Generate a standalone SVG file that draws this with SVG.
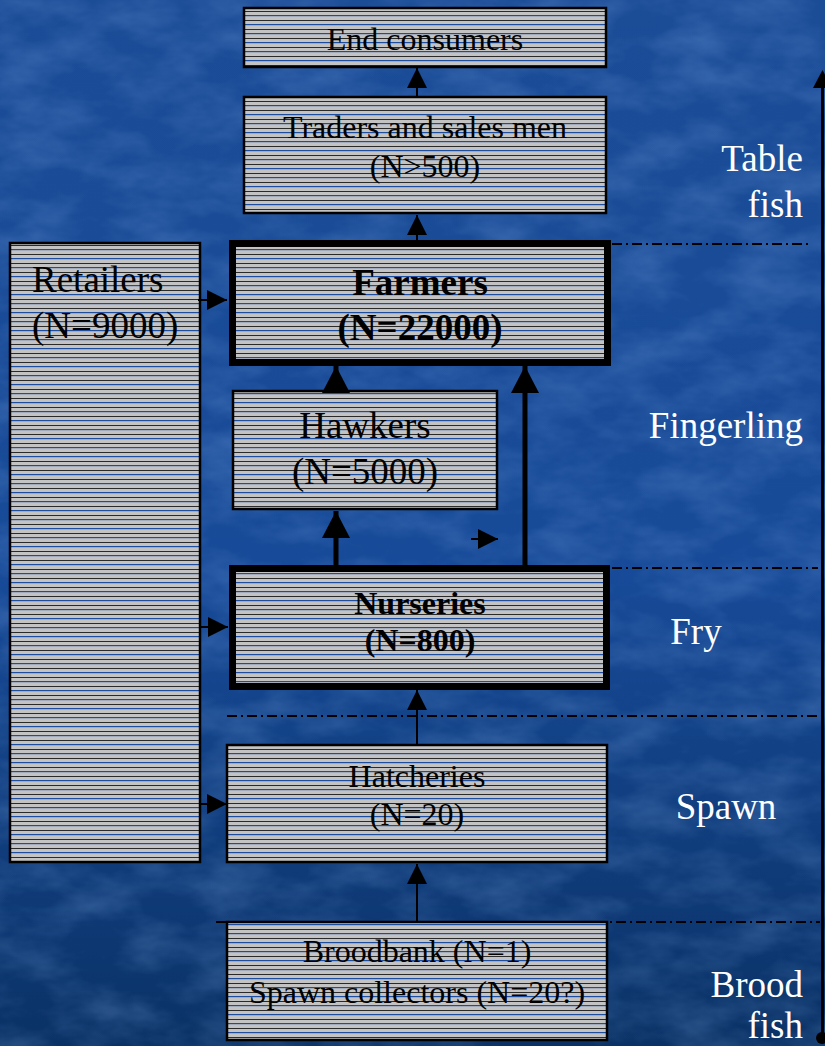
<svg xmlns="http://www.w3.org/2000/svg" width="825" height="1046" viewBox="0 0 825 1046">
  <defs>
    <linearGradient id="bg" x1="0" y1="0" x2="0" y2="1">
      <stop offset="0" stop-color="#1b4c96"/>
      <stop offset="0.55" stop-color="#174a98"/>
      <stop offset="1" stop-color="#0a3266"/>
    </linearGradient>
    <filter id="marble" x="0" y="0" width="100%" height="100%">
      <feTurbulence type="fractalNoise" baseFrequency="0.015 0.03" numOctaves="4" seed="7"/>
      <feColorMatrix type="matrix" values="0 0 0 0 0.3  0 0 0 0 0.52  0 0 0 0 0.92  1.4 0 0 0 -0.5"/>
    </filter>
    <pattern id="stripes" patternUnits="userSpaceOnUse" width="10" height="9">
      <rect width="10" height="9" fill="#c3c3c3"/>
      <rect y="2" width="10" height="1" fill="#2a2a2a"/>
      <rect y="6" width="10" height="1.2" fill="#1c4d9e"/>
    </pattern>
    <marker id="head-s" viewBox="0 0 20 20" refX="20" refY="10" markerWidth="20" markerHeight="20" markerUnits="userSpaceOnUse" orient="auto">
      <path d="M0,0 L20,10 L0,20 z" fill="#000"/>
    </marker>
    <marker id="head-l" viewBox="0 0 27 28" refX="27" refY="14" markerWidth="27" markerHeight="28" markerUnits="userSpaceOnUse" orient="auto">
      <path d="M0,0 L27,14 L0,28 z" fill="#000"/>
    </marker>
    <style>
      .box { fill: url(#stripes); stroke: #000; stroke-width: 2.5; }
      .box-b { fill: url(#stripes); stroke: #000; stroke-width: 7; }
      .t { font-family: "Liberation Serif", "Times New Roman", serif; fill: #000; text-anchor: middle; }
      .s { font-size: 32px; }
      .m { font-size: 37px; }
      .b { font-weight: bold; }
      .lbl { font-family: "Liberation Serif", "Times New Roman", serif; font-size: 37px; fill: #fff; }
      .thin { stroke: #000; stroke-width: 2; fill: none; marker-end: url(#head-s); }
      .thick { stroke: #000; stroke-width: 5; fill: none; marker-end: url(#head-l); }
      .stage { stroke: #000; stroke-width: 2; fill: none; stroke-dasharray: 10 4 2 4; }
    </style>
  </defs>

  <!-- backdrop -->
  <rect width="825" height="1046" fill="url(#bg)"/>
  <rect width="825" height="1046" filter="url(#marble)" opacity="0.3"/>

  <!-- stage separators -->
  <g id="stage-lines">
    <line class="stage" x1="612" y1="244" x2="812" y2="244"/>
    <line class="stage" x1="612" y1="568" x2="818" y2="568"/>
    <line class="stage" x1="227" y1="716" x2="820" y2="716"/>
    <line class="stage" x1="216" y1="922" x2="820" y2="922"/>
  </g>

  <!-- stage labels -->
  <g id="stage-labels">
    <text class="lbl" x="803" y="171" text-anchor="end">Table</text>
    <text class="lbl" x="803" y="217" text-anchor="end">fish</text>
    <text class="lbl" x="803" y="438" text-anchor="end">Fingerling</text>
    <text class="lbl" x="696" y="644" text-anchor="middle">Fry</text>
    <text class="lbl" x="726" y="819" text-anchor="middle">Spawn</text>
    <text class="lbl" x="803" y="997" text-anchor="end">Brood</text>
    <text class="lbl" x="803" y="1038" text-anchor="end">fish</text>
  </g>

  <!-- nodes -->
  <g id="end-consumers">
    <rect class="box" x="244" y="8" width="362" height="59"/>
    <text class="t s" x="425" y="50">End consumers</text>
  </g>
  <g id="traders">
    <rect class="box" x="244" y="97" width="362" height="116"/>
    <text class="t s" x="425" y="138">Traders and sales men</text>
    <text class="t s" x="425" y="177">(N&gt;500)</text>
  </g>
  <g id="retailers">
    <rect class="box" x="10" y="243" width="190" height="619"/>
    <text class="t m" x="32" y="292" style="text-anchor:start">Retailers</text>
    <text class="t m" x="32" y="338" style="text-anchor:start">(N=9000)</text>
  </g>
  <g id="farmers">
    <rect class="box-b" x="232.5" y="243.5" width="375" height="119"/>
    <text class="t m b" x="420" y="295">Farmers</text>
    <text class="t m b" x="420" y="340">(N=22000)</text>
  </g>
  <g id="hawkers">
    <rect class="box" x="233" y="391" width="264" height="118"/>
    <text class="t m" x="365" y="438">Hawkers</text>
    <text class="t m" x="365" y="484">(N=5000)</text>
  </g>
  <g id="nurseries">
    <rect class="box-b" x="232.5" y="568.5" width="374" height="118"/>
    <text class="t s b" x="420" y="614">Nurseries</text>
    <text class="t s b" x="420" y="651">(N=800)</text>
  </g>
  <g id="hatcheries">
    <rect class="box" x="227" y="745" width="380" height="117"/>
    <text class="t s" x="417" y="787">Hatcheries</text>
    <text class="t s" x="417" y="825">(N=20)</text>
  </g>
  <g id="broodbank">
    <rect class="box" x="227" y="922" width="380" height="118"/>
    <text class="t s" x="417" y="962">Broodbank (N=1)</text>
    <text class="t s" x="417" y="1003">Spawn collectors (N=20?)</text>
  </g>

  <!-- connectors -->
  <g id="connectors">
    <line class="thin" x1="417" y1="96" x2="417" y2="68"/>
    <line class="thin" x1="417" y1="240" x2="417" y2="215"/>
    <line class="thick" x1="336" y1="390" x2="336" y2="366"/>
    <line class="thick" x1="336" y1="565" x2="336" y2="511"/>
    <line class="thick" x1="525" y1="565" x2="525" y2="366"/>
    <line class="thin" x1="471" y1="539" x2="498" y2="539"/>
    <line class="thin" x1="417" y1="744" x2="417" y2="690"/>
    <line class="thin" x1="417" y1="921" x2="417" y2="864"/>
    <line class="thin" x1="198" y1="300" x2="227" y2="300"/>
    <line class="thin" x1="200" y1="627" x2="228" y2="627"/>
    <line class="thin" x1="200" y1="804" x2="227" y2="804"/>
    <!-- stage axis -->
    <line x1="822.5" y1="1038" x2="822.5" y2="84" stroke="#000" stroke-width="3"/>
    <path d="M822.5,70 L832,88 L813,88 z" fill="#000"/>
    <circle cx="822" cy="1038" r="6" fill="#000"/>
  </g>
</svg>
